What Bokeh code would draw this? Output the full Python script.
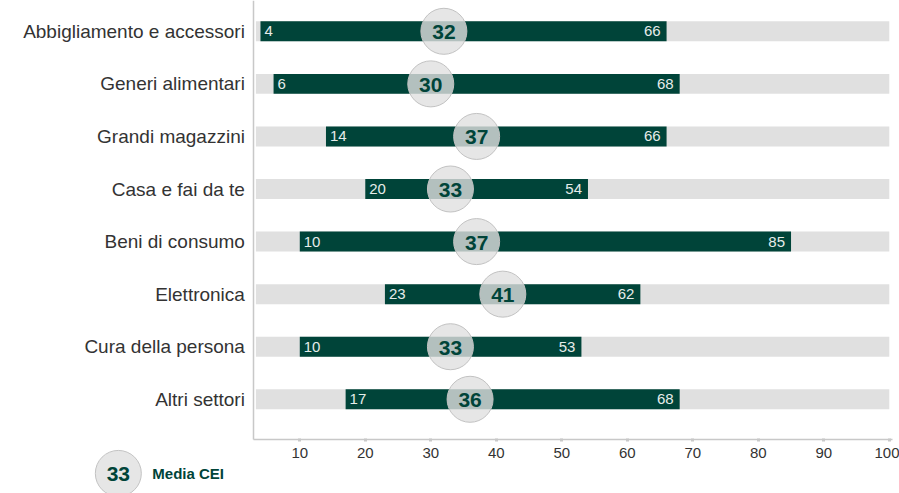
from bokeh.plotting import figure
from bokeh.models import ColumnDataSource, Range1d, FixedTicker
from bokeh.embed import file_html
from bokeh.resources import INLINE
from bokeh.core.properties import value

# ---------------- data ----------------
categories = ["Abbigliamento e accessori", "Generi alimentari", "Grandi magazzini",
              "Casa e fai da te", "Beni di consumo", "Elettronica",
              "Cura della persona", "Altri settori"]
min_vals = [4, 6, 14, 20, 10, 23, 10, 17]
max_vals = [66, 68, 66, 54, 85, 62, 53, 68]
mean_vals = [32, 30, 37, 33, 37, 41, 33, 36]
x_ticks = [10, 20, 30, 40, 50, 60, 70, 80, 90, 100]
legend_value = [33]
legend_label = ["Media CEI"]

# ---------------- style / layout ----------------
DARK = "#004439"
LIGHT = "#e0e0e0"
AXIS_COL = "#c8c8c8"
TXT = "#333333"
FONT = "Liberation Sans"
AXIS_MIN = 3.0
SCALE_MAX = 100.0
X_AXIS_AT = 7.77
LEG_X = -17.7
LEG_Y = 8.41

rows = list(range(len(categories)))
src = ColumnDataSource(dict(
    row=rows,
    lo=min_vals,
    hi=max_vals,
    mean=mean_vals,
    bg_lo=[AXIS_MIN + 0.3] * len(rows),
    bg_hi=[SCALE_MAX] * len(rows),
    lo_txt=[str(v) for v in min_vals],
    hi_txt=[str(v) for v in max_vals],
    mean_txt=[str(v) for v in mean_vals],
))

p = figure(width=899, height=493,
           x_range=Range1d(-35.69, 101.56), y_range=Range1d(8.792, -0.586),
           output_backend="svg", toolbar_location=None, min_border=0)
p.outline_line_color = None
p.grid.visible = False
p.background_fill_color = "white"
p.border_fill_color = "white"

# background grey bars
p.hbar(y="row", left="bg_lo", right="bg_hi", height=0.38, source=src,
       fill_color=LIGHT, line_color=None)
# range bars
p.hbar(y="row", left="lo", right="hi", height=0.38, source=src,
       fill_color=DARK, line_color=None)
# min / max labels
p.text(x="lo", y="row", text="lo_txt", source=src, x_offset=4,
       text_align="left", text_baseline="middle", text_color="#e6ecea",
       text_font=value(FONT), text_font_size="15px")
p.text(x="hi", y="row", text="hi_txt", source=src, x_offset=-6,
       text_align="right", text_baseline="middle", text_color="#e6ecea",
       text_font=value(FONT), text_font_size="15px")
# mean circles
p.scatter(x="mean", y="row", source=src, size=46, fill_color=LIGHT,
          fill_alpha=0.8, line_color="#c2c2c2", line_width=1)
p.text(x="mean", y="row", text="mean_txt", source=src, text_align="center",
       text_baseline="middle", text_color=DARK, text_font=value(FONT),
       text_font_size="21px", text_font_style="bold", y_offset=1)

# legend
leg = ColumnDataSource(dict(x=[LEG_X], y=[LEG_Y], v=[str(legend_value[0])],
                            lab=legend_label))
p.scatter(x="x", y="y", source=leg, size=46, fill_color=LIGHT, fill_alpha=0.8,
          line_color="#c2c2c2", line_width=1)
p.text(x="x", y="y", text="v", source=leg, text_align="center",
       text_baseline="middle", text_color=DARK, text_font=value(FONT),
       text_font_size="21px", text_font_style="bold", y_offset=1)
p.text(x="x", y="y", text="lab", source=leg, x_offset=34,
       text_align="left", text_baseline="middle", text_color=DARK,
       text_font=value(FONT), text_font_size="15px", text_font_style="bold")

# x axis
xa = p.xaxis[0]
xa.fixed_location = X_AXIS_AT
xa.bounds = (AXIS_MIN, 100.5)
xa.ticker = FixedTicker(ticks=x_ticks)
xa.axis_line_color = AXIS_COL
xa.axis_line_width = 1.5
xa.major_tick_line_color = AXIS_COL
xa.major_tick_line_width = 3
xa.major_tick_in = 1
xa.major_tick_out = 2
xa.minor_tick_line_color = None
xa.major_label_text_font = FONT
xa.major_label_text_font_size = "15px"
xa.major_label_text_color = TXT
xa.major_label_standoff = 6

# y axis
ya = p.yaxis[0]
ya.fixed_location = AXIS_MIN
ya.bounds = (-0.586, X_AXIS_AT)
ya.ticker = FixedTicker(ticks=rows)
ya.major_label_overrides = {i: c for i, c in zip(rows, categories)}
ya.axis_line_color = AXIS_COL
ya.axis_line_width = 1.5
ya.major_tick_line_color = None
ya.minor_tick_line_color = None
ya.major_tick_in = 0
ya.major_tick_out = 0
ya.major_label_text_font = FONT
ya.major_label_text_font_size = "19px"
ya.major_label_text_color = TXT
ya.major_label_standoff = 9

open("out.html", "w").write(file_html(p, INLINE))
